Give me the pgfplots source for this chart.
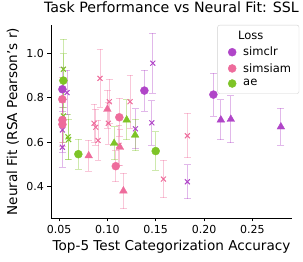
\documentclass[border=0pt]{standalone}
\usepackage{fontspec}
\setmainfont{DejaVu Sans}
\usepackage{pgfplots}
\pgfplotsset{compat=1.18}
\usepackage{pgfplotstable}

\definecolor{cclr}{HTML}{B045C8}
\definecolor{csim}{HTML}{EE6C9C}
\definecolor{cae}{HTML}{7EC427}

\pgfplotstableread{
x y e
0.0535 0.838 0.100
0.1383 0.832 0.092
0.2097 0.814 0.097
}\clrcirc
\pgfplotstableread{
x y e
0.2174 0.700 0.090
0.2277 0.703 0.105
0.2795 0.669 0.083
}\clrtri
\pgfplotstableread{
x y e
0.1470 0.955 0.135
0.1460 0.687 0.100
0.1828 0.422 0.077
0.1290 0.660 0.090
0.0583 0.823 0.100
0.0535 0.655 0.100
0.0535 0.577 0.090
}\clrx
\pgfplotstableread{
x y e
0.0534 0.793 0.100
0.0535 0.700 0.100
0.0535 0.680 0.100
0.1124 0.712 0.085
0.1087 0.492 0.070
}\simcirc
\pgfplotstableread{
x y e
0.0807 0.539 0.070
0.1000 0.748 0.085
0.1130 0.577 0.080
0.1166 0.381 0.080
}\simtri
\pgfplotstableread{
x y e
0.0924 0.887 0.130
0.1020 0.782 0.100
0.1235 0.782 0.120
0.0862 0.685 0.085
0.1010 0.685 0.095
0.0880 0.667 0.080
0.0904 0.608 0.090
0.1120 0.586 0.090
0.1828 0.629 0.100
0.1580 0.434 0.085
}\simx
\pgfplotstableread{
x y e
0.0545 0.877 0.120
0.0700 0.546 0.068
0.1500 0.560 0.087
}\aecirc
\pgfplotstableread{
x y e
0.1200 0.700 0.090
0.1287 0.632 0.070
0.1070 0.595 0.075
}\aetri
\pgfplotstableread{
x y e
0.0545 0.928 0.135
0.0545 0.718 0.120
0.0593 0.624 0.100
0.0600 0.612 0.090
}\aex

\pgfplotsset{
  eb/.style={only marks,
    error bars/y dir=both, error bars/y explicit,
    error bars/error bar style={line width=1pt, opacity=0.38},
    error bars/error mark options={rotate=90, mark size=3.4pt, line width=1pt, opacity=0.38}},
}

\begin{document}
\begin{tikzpicture}
\begin{axis}[
  scale only axis, width=241pt, height=193pt,
  xmin=0.0417, xmax=0.291, ymin=0.259, ymax=1.127,
  axis x line*=bottom, axis y line*=left,
  axis line style={line width=0.8pt},
  tick align=outside, major tick length=3.5pt,
  tick style={black, line width=0.8pt},
  xtick={0.05,0.10,0.15,0.20,0.25},
  ytick={0.4,0.6,0.8,1.0},
  xticklabel style={/pgf/number format/.cd, fixed, fixed zerofill, precision=2, assume math mode=true},
  yticklabel style={/pgf/number format/.cd, fixed, fixed zerofill, precision=1, assume math mode=true},
  ticklabel style={font=\fontsize{11}{13}\selectfont},
  title={Task Performance vs Neural Fit: SSL},
  title style={font=\fontsize{14.2}{16}\selectfont, at={(axis description cs:0.5,1.036)}, anchor=base},
  xlabel={Top-5 Test Categorization Accuracy},
  xlabel style={font=\fontsize{13.6}{16}\selectfont, at={(axis description cs:0.5,-0.166)}, anchor=base},
  ylabel={Neural Fit (RSA Pearson's r)},
  ylabel style={font=\fontsize{13.6}{16}\selectfont, at={(axis description cs:-0.141,0.5)}, anchor=base},
  legend style={at={(1.03,1)}, anchor=north east, draw=black!18, rounded corners=2pt,
    font=\fontsize{11.5}{13}\selectfont, row sep=2pt, column sep=5pt, inner xsep=6pt, inner ysep=4pt},
  legend cell align=left,
]
\coordinate (O) at (rel axis cs:0,0);
\addlegendimage{empty legend}
\addlegendentry{\hspace*{-5pt}Loss}
\addlegendimage{only marks, mark=*, mark size=4pt, cclr}
\addlegendentry{simclr}
\addlegendimage{only marks, mark=*, mark size=4pt, csim}
\addlegendentry{simsiam}
\addlegendimage{only marks, mark=*, mark size=4pt, cae}
\addlegendentry{ae}

\addplot[eb, forget plot, cae, mark=x, mark size=3.5pt, line width=1pt] table[x=x,y=y,y error=e]{\aex};
\addplot[eb, forget plot, csim, mark=x, mark size=3.5pt, line width=1pt] table[x=x,y=y,y error=e]{\simx};
\addplot[eb, forget plot, cclr, mark=x, mark size=3.5pt, line width=1pt] table[x=x,y=y,y error=e]{\clrx};
\addplot[eb, forget plot, csim, mark=triangle*, mark size=4.4pt] table[x=x,y=y,y error=e]{\simtri};
\addplot[eb, forget plot, cae, mark=triangle*, mark size=4.4pt] table[x=x,y=y,y error=e]{\aetri};
\addplot[eb, forget plot, cclr, mark=triangle*, mark size=4.4pt] table[x=x,y=y,y error=e]{\clrtri};
\addplot[eb, forget plot, csim, mark=*, mark size=4pt] table[x=x,y=y,y error=e]{\simcirc};
\addplot[eb, forget plot, cclr, mark=*, mark size=4pt] table[x=x,y=y,y error=e]{\clrcirc};
\addplot[eb, forget plot, cae, mark=*, mark size=4pt] table[x=x,y=y,y error=e]{\aecirc};
\end{axis}
\pgfresetboundingbox
\useasboundingbox (O) ++(-51pt,-44pt) rectangle ++(303pt,262pt);
\end{tikzpicture}
\end{document}
